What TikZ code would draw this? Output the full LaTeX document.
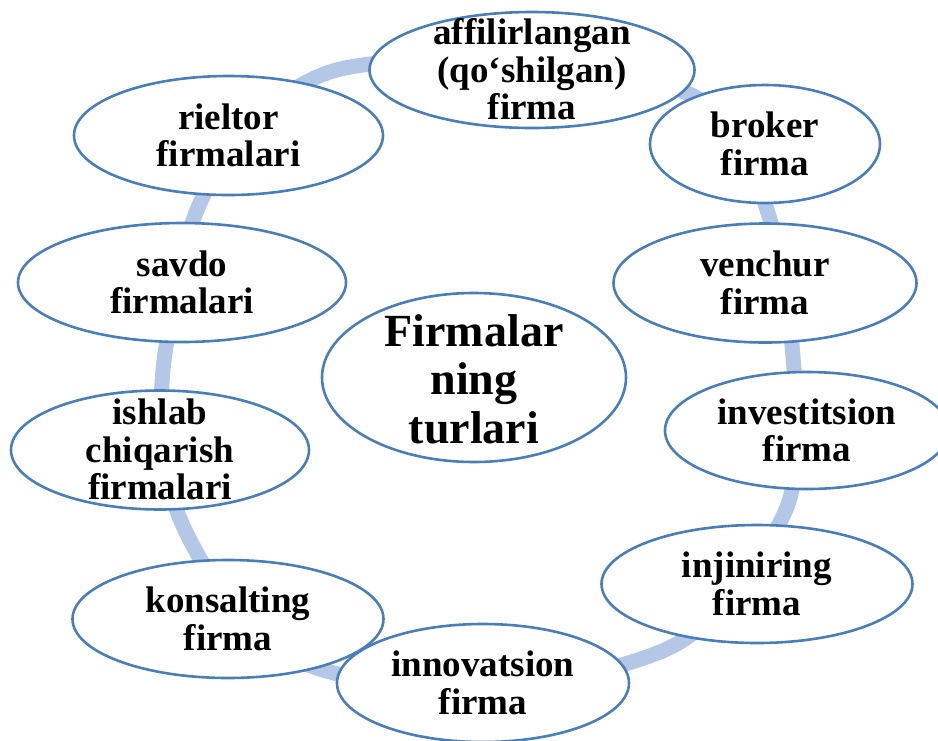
\documentclass[tikz,border=0pt]{standalone}
\usepackage{fontspec}
\setmainfont{Liberation Serif}
\usepackage{tikz}
\usetikzlibrary{shapes.geometric}
\definecolor{ringblue}{RGB}{180,199,231}
\definecolor{firmblue}{RGB}{74,126,187}
\def\firmtext#1{\raisebox{-0.3em}[0pt][0pt]{\begin{tabular}{@{}c@{}}#1\end{tabular}}}
\tikzset{
	firm/.style={ellipse, draw=firmblue, line width=2.6pt, fill=white, inner sep=0pt,
		font=\bfseries\fontsize{37}{37.5}\selectfont},
	hub/.style={firm, font=\bfseries\fontsize{46}{48.5}\selectfont}
}

\begin{document}
\begin{tikzpicture}[x=1pt, y=-1pt]
		%%%%% START %%%%%
		
		\clip (0, 0) rectangle (938, 740);
		
		\draw[line width=15pt, color=ringblue] plot[smooth cycle, tension=0.55] coordinates {
			(530, 55) (687, 93) (740, 145) (768, 213) (785, 285) (793, 357) (797, 432)
			(787, 507) (735, 590) (660, 652) (490, 690) (323, 670) (240, 615) (185, 530)
			(163, 455) (163, 370) (178, 285) (197, 210) (240, 135) (303, 84) (370, 64)};
		
		\node[firm, minimum width=325, minimum height=116] (affil) at (532, 70) {\firmtext{affilirlangan\\(qo‘shilgan)\\firma}};
		\node[firm, minimum width=230, minimum height=118] (broker) at (765, 144) {\firmtext{broker\\firma}};
		\node[firm, minimum width=303, minimum height=119] (venchur) at (765, 283) {\firmtext{venchur\\firma}};
		\node[firm, minimum width=284, minimum height=117] (invest) at (807, 430.5) {\firmtext{investitsion\\firma}};
		\node[firm, minimum width=311, minimum height=118] (injin) at (757, 584) {\firmtext{injiniring\\firma}};
		\node[firm, minimum width=292, minimum height=118] (innov) at (483, 683) {\firmtext{innovatsion\\firma}};
		\node[firm, minimum width=311, minimum height=118] (konsalt) at (228, 619) {\firmtext{konsalting\\firma}};
		\node[firm, minimum width=298, minimum height=119] (ishlab) at (160, 450) {\firmtext{ishlab\\chiqarish\\firmalari}};
		\node[firm, minimum width=328, minimum height=119] (savdo) at (182, 282.5) {\firmtext{savdo\\firmalari}};
		\node[firm, minimum width=309, minimum height=119] (rieltor) at (228.5, 135.5) {\firmtext{rieltor\\firmalari}};
		
		\node[hub, minimum width=304, minimum height=169] (turlar) at (474, 377.5) {\firmtext{Firmalar\\ning\\turlari}};
		
		%%%%% END %%%%%
	\end{tikzpicture}
\end{document}
